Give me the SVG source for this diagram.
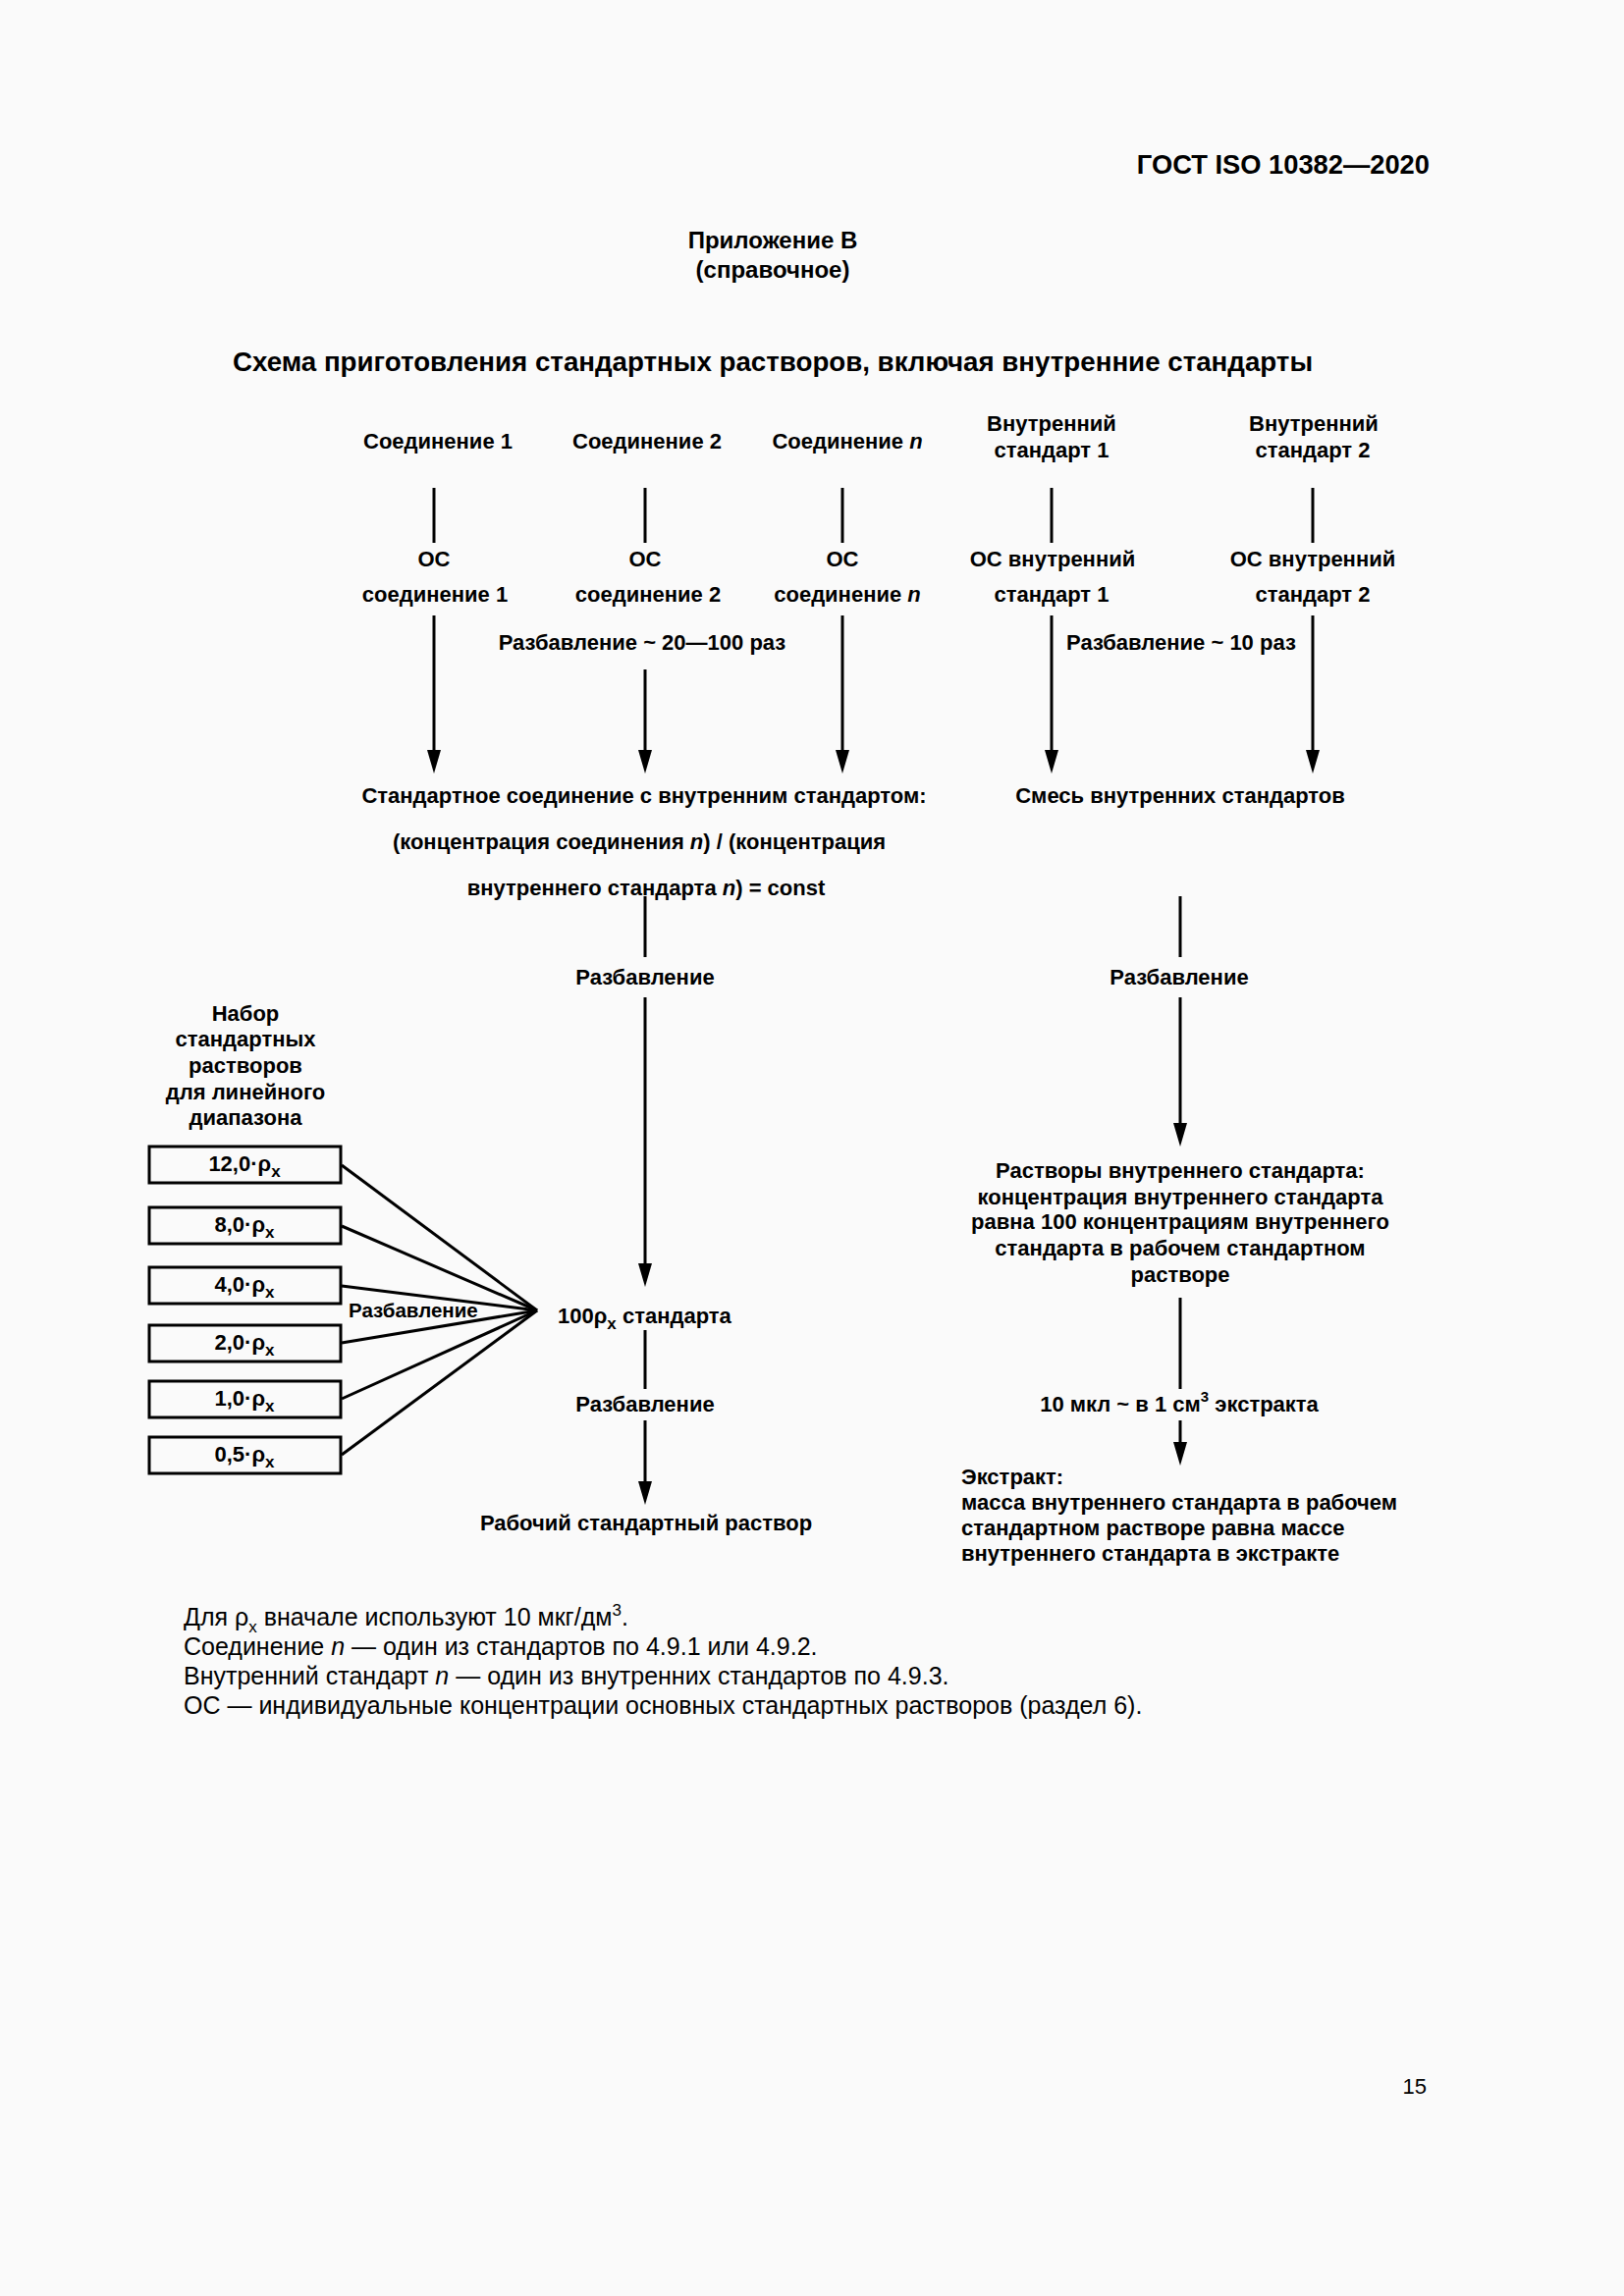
<svg xmlns="http://www.w3.org/2000/svg" width="1654" height="2339" viewBox="0 0 1654 2339">
<style>
text{font-family:"Liberation Sans",Arial,sans-serif;fill:#000}
.b{font-size:22px;font-weight:bold}
.m{text-anchor:middle}
.fn{font-size:25px}
.ln{stroke:#000;stroke-width:3;fill:none}
.ar{stroke:#000;stroke-width:3;fill:none;marker-end:url(#ah)}
.box{fill:none;stroke:#000;stroke-width:3}
</style>
<defs>
<marker id="ah" viewBox="0 0 24 14" markerWidth="24" markerHeight="14" refX="14" refY="7" orient="auto" markerUnits="userSpaceOnUse">
<path d="M0,0 L24,7 L0,14 z" fill="#000"/>
</marker>
</defs>
<rect x="0" y="0" width="1654" height="2339" fill="#fafafa"/>

<g id="header">
<text x="1456" y="177" font-size="27.3" font-weight="bold" text-anchor="end">ГОСТ ISO 10382—2020</text>
<text x="787" y="253" font-size="24" font-weight="bold" class="m">Приложение В</text>
<text x="787" y="283" font-size="24" font-weight="bold" class="m">(справочное)</text>
<text x="787" y="378" font-size="27.7" font-weight="bold" class="m">Схема приготовления стандартных растворов, включая внутренние стандарты</text>
</g>

<g id="compound1">
<text x="446" y="457" class="b m">Соединение 1</text>
<text x="442" y="577" class="b m">ОС</text>
<text x="443" y="613" class="b m">соединение 1</text>
</g>
<g id="compound2">
<text x="659" y="457" class="b m">Соединение 2</text>
<text x="657" y="577" class="b m">ОС</text>
<text x="660" y="613" class="b m">соединение 2</text>
</g>
<g id="compoundn">
<text x="863" y="457" class="b m">Соединение <tspan font-style="italic">n</tspan></text>
<text x="858" y="577" class="b m">ОС</text>
<text x="863" y="613" class="b m">соединение <tspan font-style="italic">n</tspan></text>
</g>
<g id="is1">
<text x="1071" y="439" class="b m">Внутренний</text>
<text x="1071" y="466" class="b m">стандарт 1</text>
<text x="1072" y="577" class="b m">ОС внутренний</text>
<text x="1071" y="613" class="b m">стандарт 1</text>
</g>
<g id="is2">
<text x="1338" y="439" class="b m">Внутренний</text>
<text x="1337" y="466" class="b m">стандарт 2</text>
<text x="1337" y="577" class="b m">ОС внутренний</text>
<text x="1337" y="613" class="b m">стандарт 2</text>
</g>
<g id="dil-labels">
<text x="654" y="662" class="b m">Разбавление ~ 20—100 раз</text>
<text x="1086" y="662" class="b">Разбавление ~ 10 раз</text>
</g>
<g id="std-compound">
<text x="656" y="818" class="b m">Стандартное соединение с внутренним стандартом:</text>
<text x="651" y="865" class="b m">(концентрация соединения <tspan font-style="italic">n</tspan>) / (концентрация</text>
<text x="658" y="912" class="b m">внутреннего стандарта <tspan font-style="italic">n</tspan>) = const</text>
</g>
<g id="is-mix">
<text x="1202" y="818" class="b m">Смесь внутренних стандартов</text>
</g>
<g id="dil2">
<text x="657" y="1003" class="b m">Разбавление</text>
</g>
<g id="dil3">
<text x="1201" y="1003" class="b m">Разбавление</text>
</g>
<g id="set-label">
<text x="250" y="1040" class="b m">Набор</text>
<text x="250" y="1066" class="b m">стандартных</text>
<text x="250" y="1093" class="b m">растворов</text>
<text x="250" y="1120" class="b m">для линейного</text>
<text x="250" y="1146" class="b m">диапазона</text>
</g>
<g id="box1"><rect class="box" x="152" y="1168" width="195" height="37"/><text x="249" y="1193" class="b m">12,0·ρ<tspan font-size="17" dy="6">x</tspan></text></g>
<g id="box2"><rect class="box" x="152" y="1230" width="195" height="37"/><text x="249" y="1255" class="b m">8,0·ρ<tspan font-size="17" dy="6">x</tspan></text></g>
<g id="box3"><rect class="box" x="152" y="1291" width="195" height="37"/><text x="249" y="1316" class="b m">4,0·ρ<tspan font-size="17" dy="6">x</tspan></text></g>
<g id="box4"><rect class="box" x="152" y="1350" width="195" height="37"/><text x="249" y="1375" class="b m">2,0·ρ<tspan font-size="17" dy="6">x</tspan></text></g>
<g id="box5"><rect class="box" x="152" y="1407" width="195" height="37"/><text x="249" y="1432" class="b m">1,0·ρ<tspan font-size="17" dy="6">x</tspan></text></g>
<g id="box6"><rect class="box" x="152" y="1464" width="195" height="37"/><text x="249" y="1489" class="b m">0,5·ρ<tspan font-size="17" dy="6">x</tspan></text></g>
<g id="fan-label">
<text x="355" y="1342" font-size="20.5" font-weight="bold">Разбавление</text>
</g>
<g id="std100">
<text x="568" y="1348" class="b">100ρ<tspan font-size="17" dy="6">x</tspan><tspan dy="-6"> стандарта</tspan></text>
</g>
<g id="dil4">
<text x="657" y="1438" class="b m">Разбавление</text>
</g>
<g id="working">
<text x="658" y="1559" class="b m">Рабочий стандартный раствор</text>
</g>
<g id="is-solutions">
<text x="1202" y="1200" class="b m">Растворы внутреннего стандарта:</text>
<text x="1202" y="1227" class="b m">концентрация внутреннего стандарта</text>
<text x="1202" y="1252" class="b m">равна 100 концентрациям внутреннего</text>
<text x="1202" y="1279" class="b m">стандарта в рабочем стандартном</text>
<text x="1202" y="1306" class="b m">растворе</text>
</g>
<g id="spike">
<text x="1201" y="1438" class="b m">10 мкл ~ в 1 см<tspan font-size="15" dy="-10">3</tspan><tspan dy="10"> экстракта</tspan></text>
</g>
<g id="extract">
<text x="979" y="1512" class="b">Экстракт:</text>
<text x="979" y="1538" class="b">масса внутреннего стандарта в рабочем</text>
<text x="979" y="1564" class="b">стандартном растворе равна массе</text>
<text x="979" y="1590" class="b">внутреннего стандарта в экстракте</text>
</g>

<g id="connectors">
<line class="ln" x1="442" y1="497" x2="442" y2="553"/>
<line class="ln" x1="657" y1="497" x2="657" y2="553"/>
<line class="ln" x1="858" y1="497" x2="858" y2="553"/>
<line class="ln" x1="1071" y1="497" x2="1071" y2="553"/>
<line class="ln" x1="1337" y1="497" x2="1337" y2="553"/>
<line class="ar" x1="442" y1="627" x2="442" y2="778"/>
<line class="ar" x1="657" y1="682" x2="657" y2="778"/>
<line class="ar" x1="858" y1="627" x2="858" y2="778"/>
<line class="ar" x1="1071" y1="627" x2="1071" y2="778"/>
<line class="ar" x1="1337" y1="627" x2="1337" y2="778"/>
<line class="ln" x1="657" y1="913" x2="657" y2="975"/>
<line class="ar" x1="657" y1="1016" x2="657" y2="1301"/>
<line class="ln" x1="1202" y1="913" x2="1202" y2="975"/>
<line class="ar" x1="1202" y1="1016" x2="1202" y2="1158"/>
<line class="ln" x1="657" y1="1355" x2="657" y2="1415"/>
<line class="ar" x1="657" y1="1447" x2="657" y2="1523"/>
<line class="ln" x1="1202" y1="1322" x2="1202" y2="1415"/>
<line class="ar" x1="1202" y1="1447" x2="1202" y2="1483"/>
<line class="ln" x1="348" y1="1187" x2="547" y2="1335"/>
<line class="ln" x1="348" y1="1249" x2="547" y2="1335"/>
<line class="ln" x1="348" y1="1310" x2="547" y2="1335"/>
<line class="ln" x1="348" y1="1368" x2="547" y2="1335"/>
<line class="ln" x1="348" y1="1425" x2="547" y2="1335"/>
<line class="ln" x1="348" y1="1482" x2="547" y2="1335"/>
</g>

<g id="notes">
<text x="187" y="1656" class="fn">Для ρ<tspan font-size="17" dy="7">x</tspan><tspan dy="-7"> вначале используют 10 мкг/дм</tspan><tspan font-size="17" dy="-10">3</tspan><tspan dy="10">.</tspan></text>
<text x="187" y="1686" class="fn">Соединение <tspan font-style="italic">n</tspan> — один из стандартов по 4.9.1 или 4.9.2.</text>
<text x="187" y="1716" class="fn">Внутренний стандарт <tspan font-style="italic">n</tspan> — один из внутренних стандартов по 4.9.3.</text>
<text x="187" y="1746" class="fn">ОС — индивидуальные концентрации основных стандартных растворов (раздел 6).</text>
</g>
<g id="page-number">
<text x="1453" y="2133" font-size="22" text-anchor="end">15</text>
</g>
</svg>
